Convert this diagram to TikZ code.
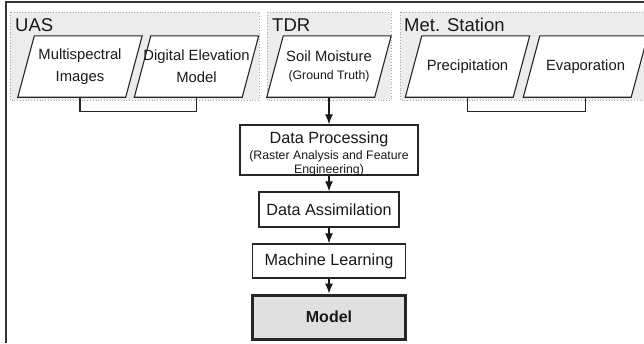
\documentclass[tikz,border=0pt]{standalone}
\usepackage{fontspec}
\setmainfont{Liberation Sans}
\usetikzlibrary{arrows.meta,backgrounds}

\newcommand{\srcfont}{\fontsize{14.8}{22}\selectfont}
\newcommand{\smallfont}{\fontsize{12.3}{14.5}\selectfont}
\newcommand{\stagefont}{\fontsize{16.2}{19}\selectfont}

\tikzset{
  source/.style={minimum width=124pt, minimum height=61pt, inner sep=0pt, align=center, font=\srcfont},
  srcedge/.style={draw=black!85, line width=1.1pt, fill=white},
  grouptitle/.style={anchor=base west, inner sep=0pt, font=\fontsize{18.5}{22}\selectfont},
  groupbox/.style={fill=gray!15, draw=gray!70, dotted, line width=0.8pt},
  stage/.style={draw=black!85, line width=1.5pt, fill=white, inner sep=0pt, font=\stagefont},
  flow/.style={-{Latex[length=10pt,width=8pt]}, line width=1.1pt, black!90},
  link/.style={line width=1.1pt, black!85}
}

\begin{document}
\begin{tikzpicture}[x=1pt, y=-1pt, every node/.style={text=black!90}]
  \useasboundingbox (0,0) rectangle (644,343);
  \clip (0,0) rectangle (644,343);

  % frame
  \draw[line width=1.6pt, black!80] (6,343) -- (6,2) -- (644,2);

  % data sources
  \node[source] (ms)  at (80,66.5)    {Multispectral\\Images};
  \node[source] (dem) at (196.5,66.5) {Digital Elevation\\Model};
  \node[source] (sm)  at (329,66.5)   {Soil Moisture\\[-4pt]\smallfont (Ground Truth)};
  \node[source] (pr)  at (467.5,66.5) {Precipitation};
  \node[source] (ev)  at (585.5,66.5) {Evaporation};

  \node[grouptitle] (uas) at (15,31)  {UAS};
  \node[grouptitle] (tdr) at (272,31) {TDR};
  \node[grouptitle] (met) at (404,31) {Met. Station};

  % processing chain
  \node[stage, minimum width=178pt, minimum height=50pt] (dp) at (329,150) {};
  \node[align=center, inner sep=0pt, font=\smallfont] (dptext) at (329,154)
    {\stagefont Data Processing\\[1.5pt](Raster Analysis and Feature\\Engineering)};
  \node[stage, minimum width=140pt, minimum height=35pt] (da) at (329,209.5) {Data Assimilation};
  \node[stage, minimum width=153pt, minimum height=34pt] (ml) at (329,261) {Machine Learning};
  \node[stage, minimum width=153pt, minimum height=44pt, line width=3pt, fill=gray!24,
        font=\bfseries\fontsize{16}{19}\selectfont] (model) at (329,317) {Model};

  \draw[link] (ms.south) -- ++(0,14) -| (dem.south);
  \draw[link] (pr.south) -- ++(0,14) -| (ev.south);

  \draw[flow] (sm.south) -- (dp.north);
  \draw[flow] (dp.south) -- (da.north);
  \draw[flow] (da.south) -- (ml.north);
  \draw[flow] (ml.south) -- (model.north);

  \begin{scope}[on background layer]
    \draw[groupbox] (10,12) rectangle (259,100);
    \draw[groupbox] (267,12) rectangle (391,100);
    \draw[groupbox] (400,12) rectangle (660,100);
    \foreach \n in {ms,dem,sm,pr,ev}
      \draw[srcedge] ([xshift=16.5pt]\n.north west) -- (\n.north east)
        -- ([xshift=-16.5pt]\n.south east) -- (\n.south west) -- cycle;
  \end{scope}
\end{tikzpicture}
\end{document}
